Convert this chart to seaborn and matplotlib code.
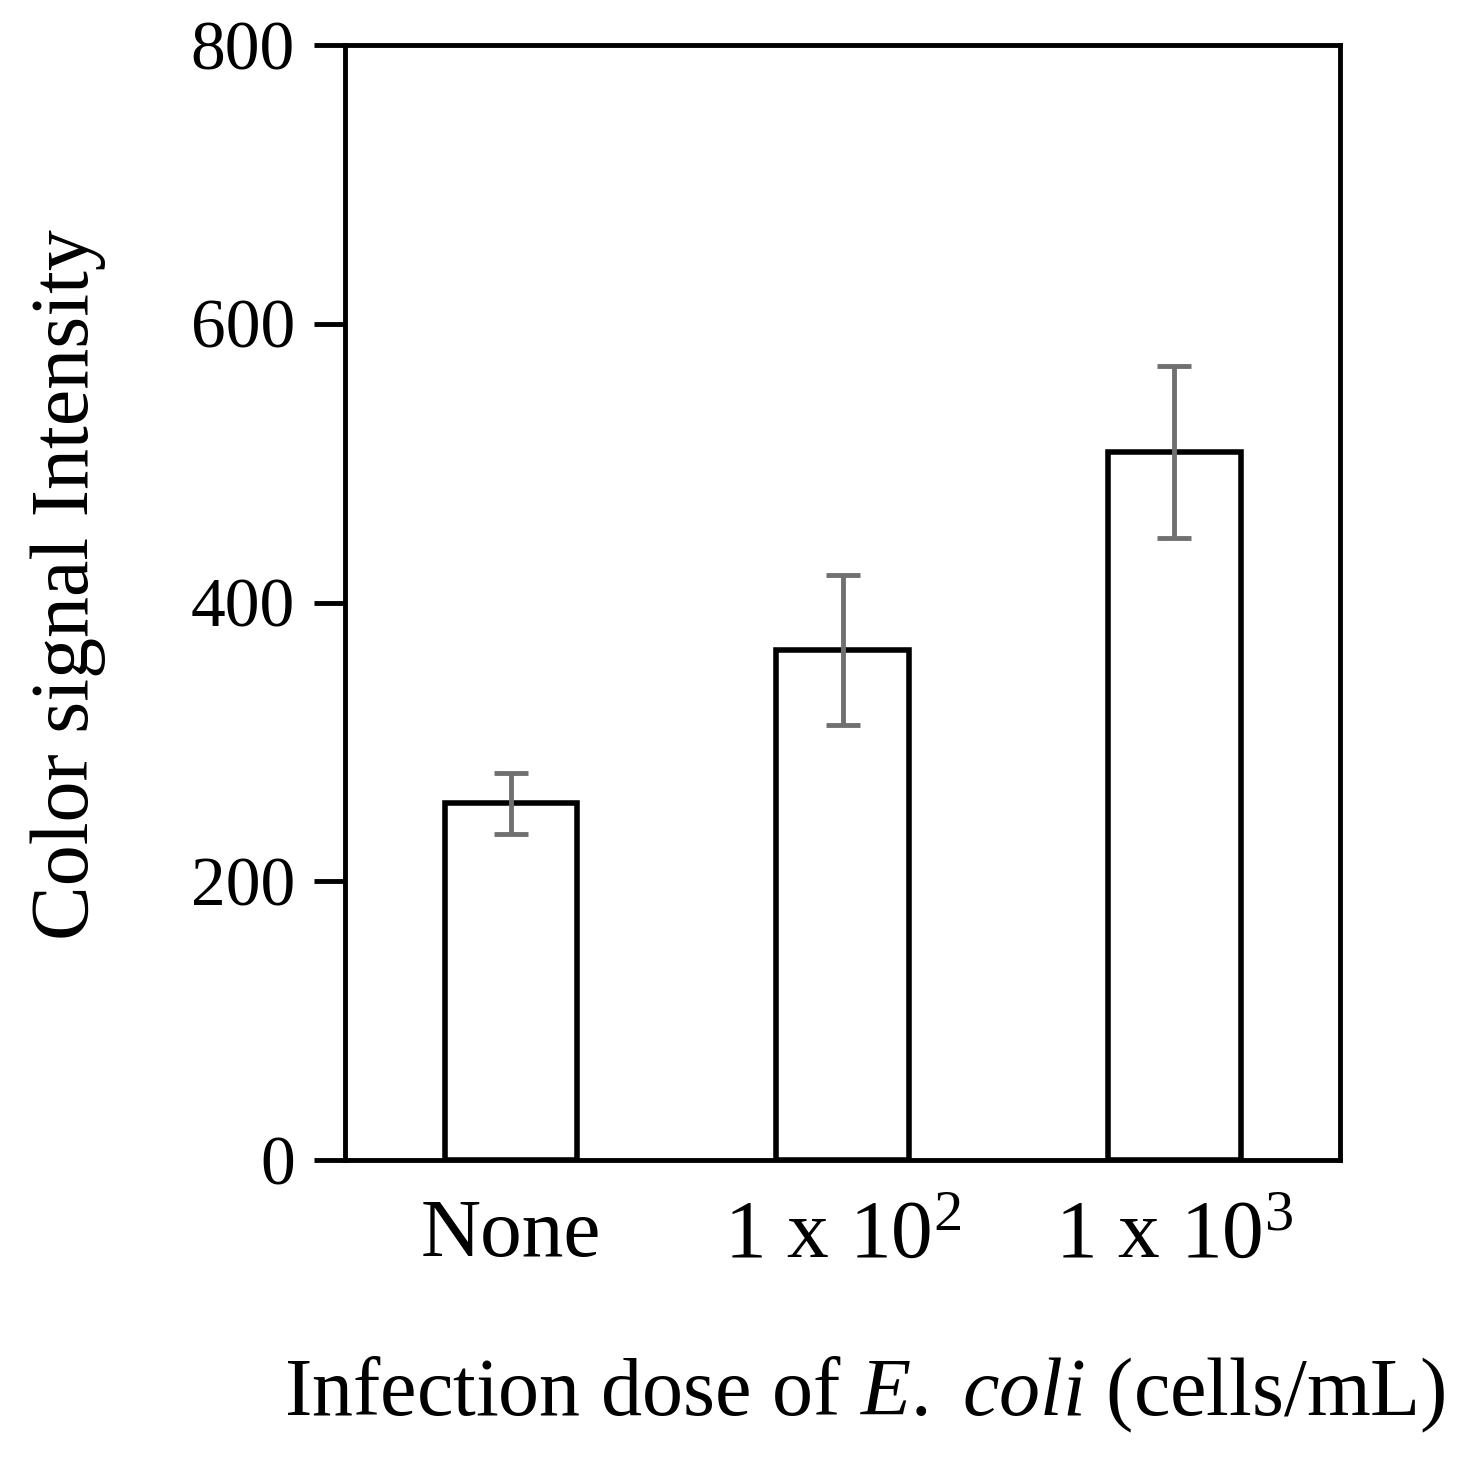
import matplotlib
matplotlib.use("Agg")
import matplotlib.pyplot as plt
import seaborn as sns
import pandas as pd

# values
doses = ["None", r"1 x 10$^2$", r"1 x 10$^3$"]
intensity = [256, 366, 508]
errors = [22, 54, 62]

sns.set_style("ticks")
plt.rcParams["font.family"] = ["Liberation Serif", "DejaVu Serif"]
plt.rcParams["mathtext.fontset"] = "custom"
plt.rcParams["mathtext.rm"] = "Liberation Serif"
plt.rcParams["mathtext.it"] = "Liberation Serif:italic"
plt.rcParams["text.color"] = "black"
plt.rcParams["xtick.color"] = "black"
plt.rcParams["ytick.color"] = "black"

df = pd.DataFrame({"dose": doses, "intensity": intensity})

W, H = 1467, 1462
fig = plt.figure(figsize=(W / 100, H / 100), dpi=100)
ax = fig.add_axes([345 / W, 1 - 1160 / H, 995 / W, 1115 / H])

sns.barplot(data=df, x="dose", y="intensity", ax=ax, width=0.4,
            color="white", edgecolor="black", linewidth=4, errorbar=None)
ax.errorbar(range(len(doses)), intensity, yerr=errors, fmt="none",
            ecolor="#707070", elinewidth=3.5, capsize=12, capthick=3.5)

ax.set_xlim(-0.5, 2.5)
ax.set_ylim(0, 800)
ax.set_yticks([0, 200, 400, 600, 800])
for s in ax.spines.values():
    s.set_linewidth(3.5)
    s.set_color("black")
    s.set_visible(True)
ax.tick_params(axis="y", direction="out", length=22, width=3.5, labelsize=50, pad=14)
ax.tick_params(axis="x", length=0, labelsize=60, pad=28)
ax.set_xlabel("")
ax.set_ylabel("")

fig.text(865 / W, 1 - 1395 / H, r"Infection dose of $\mathit{E.\ coli}$ (cells/mL)",
         fontsize=59, ha="center", va="center")
fig.text(68 / W, 1 - 585 / H, "Color signal Intensity", fontsize=59,
         rotation=90, ha="center", va="center")

fig.savefig("out.png", dpi=100)
